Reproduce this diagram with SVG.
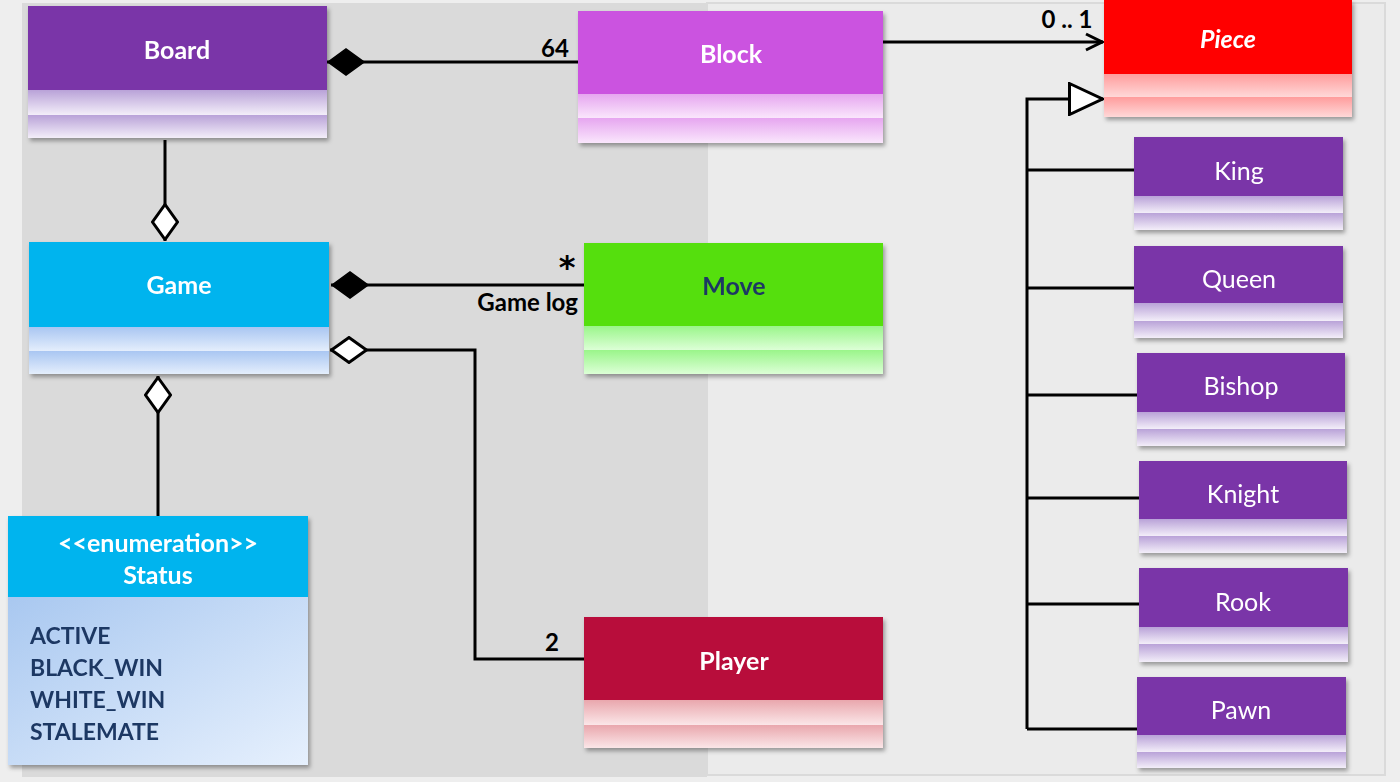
<svg xmlns="http://www.w3.org/2000/svg" width="1400" height="782" viewBox="0 0 1400 782">
<style>
.hd{font-family:Lato,"Open Sans","Liberation Sans",sans-serif;font-weight:bold;font-size:25px;fill:#ffffff;text-anchor:middle;dominant-baseline:central}
.sub{font-family:Lato,"Open Sans","Liberation Sans",sans-serif;font-weight:normal;font-size:25px;fill:#ffffff;text-anchor:middle;dominant-baseline:central}
.lbl{font-family:Lato,"Open Sans","Liberation Sans",sans-serif;font-weight:bold;font-size:24px;fill:#000000}
.star{font-family:"DejaVu Sans","Liberation Sans",sans-serif;font-weight:bold;font-size:32px;fill:#000000}
.item{font-family:Lato,"Open Sans","Liberation Sans",sans-serif;font-weight:bold;font-size:23px;fill:#1f3864;dominant-baseline:central}
.ln{fill:none;stroke:#000;stroke-width:3}
.box{filter:url(#sh)}
</style>
<defs>
<filter id="sh" x="-10%" y="-10%" width="125%" height="130%">
<feDropShadow dx="2" dy="3" stdDeviation="2" flood-color="#000" flood-opacity="0.35"/>
</filter>
<linearGradient id="gPur" x1="0" y1="0" x2="0" y2="1"><stop offset="0" stop-color="#b9a2d8"/><stop offset="1" stop-color="#f3eef9"/></linearGradient>
<linearGradient id="gMag" x1="0" y1="0" x2="0" y2="1"><stop offset="0" stop-color="#e6a6f0"/><stop offset="1" stop-color="#fae6fc"/></linearGradient>
<linearGradient id="gRed" x1="0" y1="0" x2="0" y2="1"><stop offset="0" stop-color="#ff9c9c"/><stop offset="1" stop-color="#ffd8d8"/></linearGradient>
<linearGradient id="gBlu" x1="0" y1="0" x2="0" y2="1"><stop offset="0" stop-color="#a9c6f2"/><stop offset="1" stop-color="#e4eefc"/></linearGradient>
<linearGradient id="gGrn" x1="0" y1="0" x2="0" y2="1"><stop offset="0" stop-color="#9af58a"/><stop offset="1" stop-color="#dcffd6"/></linearGradient>
<linearGradient id="gPin" x1="0" y1="0" x2="0" y2="1"><stop offset="0" stop-color="#e9a7ad"/><stop offset="1" stop-color="#fbe6e8"/></linearGradient>
<linearGradient id="gStat" x1="0" y1="0" x2="1" y2="1"><stop offset="0" stop-color="#a9c8f0"/><stop offset="1" stop-color="#e6f0fd"/></linearGradient>
<marker id="dF" viewBox="0 0 38 28" refX="0" refY="14" markerWidth="38" markerHeight="28" markerUnits="userSpaceOnUse" orient="auto">
<path d="M1,14 L19,1 L37,14 L19,27 Z" fill="#000" stroke="#000" stroke-width="1.5"/>
</marker>
<marker id="dH" viewBox="0 0 38 28" refX="0" refY="14" markerWidth="38" markerHeight="28" markerUnits="userSpaceOnUse" orient="auto">
<path d="M1.5,14 L19,1.5 L36.5,14 L19,26.5 Z" fill="#fff" stroke="#000" stroke-width="3"/>
</marker>
<marker id="aO" viewBox="0 0 20 20" refX="19" refY="10" markerWidth="20" markerHeight="20" markerUnits="userSpaceOnUse" orient="auto">
<path d="M2,2 L18,10 L2,18" fill="none" stroke="#000" stroke-width="3"/>
</marker>
<marker id="tH" viewBox="0 0 36 34" refX="35" refY="17" markerWidth="36" markerHeight="34" markerUnits="userSpaceOnUse" orient="auto">
<path d="M1.5,1.5 L34.5,17 L1.5,32.5 Z" fill="#fff" stroke="#000" stroke-width="3"/>
</marker>
</defs>

<rect x="0" y="0" width="1400" height="782" fill="#eeeeee"/>
<rect x="22" y="3" width="685" height="774" fill="#dadada"/>
<rect x="707" y="3" width="678" height="772" fill="#ebebeb" stroke="#dadada" stroke-width="2"/>

<g id="connectors">
<path class="ln" d="M327,62 L578,62" marker-start="url(#dF)"/>
<path class="ln" d="M165,241 L165,140" marker-start="url(#dH)"/>
<path class="ln" d="M331,285 L584,285" marker-start="url(#dF)"/>
<path class="ln" d="M330,350 L475,350 L475,659 L584,659" marker-start="url(#dH)"/>
<path class="ln" d="M158,376 L158,516" marker-start="url(#dH)"/>
<path class="ln" d="M883,42 L1103,42" marker-end="url(#aO)"/>
<path class="ln" d="M1027,729 L1027,99 L1103,99" marker-end="url(#tH)"/>
<path class="ln" d="M1027,170 L1134,170"/>
<path class="ln" d="M1027,288 L1134,288"/>
<path class="ln" d="M1027,395 L1137,395"/>
<path class="ln" d="M1027,498 L1139,498"/>
<path class="ln" d="M1027,604 L1139,604"/>
<path class="ln" d="M1027,729 L1137,729"/>
<text class="lbl" x="555" y="57" text-anchor="middle">64</text>
<text class="lbl" x="1067" y="28" text-anchor="middle">0 .. 1</text>
<text class="star" x="567" y="278" text-anchor="middle">*</text>
<text class="lbl" x="578" y="311" text-anchor="end">Game log</text>
<text class="lbl" x="552" y="651" text-anchor="middle">2</text>
</g>

<g id="board" class="box">
<rect x="28" y="6" width="299" height="84" fill="#7a35a8"/>
<rect x="28" y="90" width="299" height="25" fill="url(#gPur)"/>
<rect x="28" y="115" width="299" height="23" fill="url(#gPur)"/>
<text class="hd" x="177" y="49">Board</text>
</g>

<g id="block" class="box">
<rect x="578" y="11" width="305" height="83" fill="#cb52e0"/>
<rect x="578" y="94" width="305" height="24" fill="url(#gMag)"/>
<rect x="578" y="118" width="305" height="25" fill="url(#gMag)"/>
<text class="hd" x="731" y="53">Block</text>
</g>

<g id="piece" class="box">
<rect x="1104" y="0" width="248" height="74" fill="#ff0000"/>
<rect x="1104" y="74" width="248" height="23" fill="url(#gRed)"/>
<rect x="1104" y="97" width="248" height="20" fill="url(#gRed)"/>
<text class="hd" x="1228" y="38" font-style="italic">Piece</text>
</g>

<g id="game" class="box">
<rect x="29" y="242" width="300" height="85" fill="#00b4ee"/>
<rect x="29" y="327" width="300" height="24" fill="url(#gBlu)"/>
<rect x="29" y="351" width="300" height="23" fill="url(#gBlu)"/>
<text class="hd" x="179" y="284">Game</text>
</g>

<g id="move" class="box">
<rect x="584" y="243" width="299" height="83" fill="#55df0e"/>
<rect x="584" y="326" width="299" height="24" fill="url(#gGrn)"/>
<rect x="584" y="350" width="299" height="24" fill="url(#gGrn)"/>
<text class="hd" x="734" y="285" style="fill:#1f3864">Move</text>
</g>

<g id="player" class="box">
<rect x="584" y="617" width="299" height="83" fill="#b80d3a"/>
<rect x="584" y="700" width="299" height="25" fill="url(#gPin)"/>
<rect x="584" y="725" width="299" height="23" fill="url(#gPin)"/>
<text class="hd" x="734" y="660">Player</text>
</g>

<g id="status" class="box">
<rect x="8" y="516" width="300" height="81" fill="#00b4ee"/>
<rect x="8" y="597" width="300" height="168" fill="url(#gStat)"/>
<text class="hd" x="158" y="542" font-size="24">&lt;&lt;enumeration&gt;&gt;</text>
<text class="hd" x="158" y="574" font-size="24">Status</text>
<text class="item" x="30" y="635">ACTIVE</text>
<text class="item" x="30" y="667">BLACK_WIN</text>
<text class="item" x="30" y="699">WHITE_WIN</text>
<text class="item" x="30" y="731">STALEMATE</text>
</g>

<g id="king" class="box">
<rect x="1134" y="137" width="209" height="59" fill="#7a35a8"/>
<rect x="1134" y="196" width="209" height="17" fill="url(#gPur)"/>
<rect x="1134" y="213" width="209" height="17" fill="url(#gPur)"/>
<text class="sub" x="1239" y="170">King</text>
</g>

<g id="queen" class="box">
<rect x="1134" y="246" width="209" height="57" fill="#7a35a8"/>
<rect x="1134" y="303" width="209" height="18" fill="url(#gPur)"/>
<rect x="1134" y="321" width="209" height="17" fill="url(#gPur)"/>
<text class="sub" x="1239" y="278">Queen</text>
</g>

<g id="bishop" class="box">
<rect x="1137" y="353" width="208" height="59" fill="#7a35a8"/>
<rect x="1137" y="412" width="208" height="17" fill="url(#gPur)"/>
<rect x="1137" y="429" width="208" height="17" fill="url(#gPur)"/>
<text class="sub" x="1241" y="385">Bishop</text>
</g>

<g id="knight" class="box">
<rect x="1139" y="461" width="208" height="58" fill="#7a35a8"/>
<rect x="1139" y="519" width="208" height="17" fill="url(#gPur)"/>
<rect x="1139" y="536" width="208" height="17" fill="url(#gPur)"/>
<text class="sub" x="1243" y="493">Knight</text>
</g>

<g id="rook" class="box">
<rect x="1139" y="568" width="209" height="59" fill="#7a35a8"/>
<rect x="1139" y="627" width="209" height="17" fill="url(#gPur)"/>
<rect x="1139" y="644" width="209" height="18" fill="url(#gPur)"/>
<text class="sub" x="1243" y="601">Rook</text>
</g>

<g id="pawn" class="box">
<rect x="1137" y="677" width="209" height="58" fill="#7a35a8"/>
<rect x="1137" y="735" width="209" height="17" fill="url(#gPur)"/>
<rect x="1137" y="752" width="209" height="16" fill="url(#gPur)"/>
<text class="sub" x="1241" y="709">Pawn</text>
</g>
</svg>
